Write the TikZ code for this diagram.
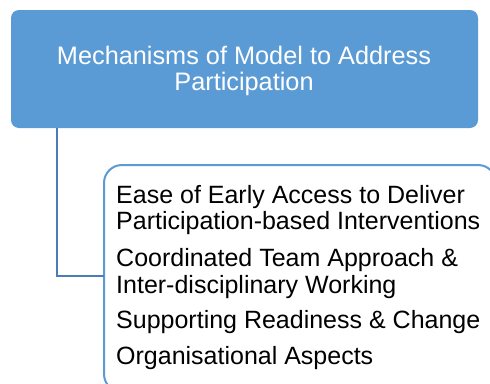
\documentclass[tikz,border=0pt]{standalone}
\usepackage{fontspec}
\setmainfont{Liberation Sans}
\begin{document}
\begin{tikzpicture}[x=1pt,y=-1pt,
  headbox/.style={fill=accent,draw=none,rounded corners=8pt},
  listbox/.style={draw=accent,line width=2pt,fill=white,rounded corners=18pt},
  conn/.style={draw=connblue,line width=2.4pt},
  headtext/.style={text=white,font=\fontsize{25.3}{26}\selectfont,anchor=base,inner sep=0pt},
  itemtext/.style={text=black,font=\fontsize{25}{27}\selectfont,anchor=base west,inner sep=0pt}]
\definecolor{accent}{HTML}{5B9BD5}
\definecolor{connblue}{HTML}{4A7DB5}
\useasboundingbox (0,0) rectangle (490,383);
\clip (0,0) rectangle (490,383);
% top box
\path[headbox] (11,10) rectangle (478,128);
\coordinate (topbot) at (57,128);
\node[headtext] (h1) at (244,64) {Mechanisms of Model to Address};
\node[headtext] (h2) at (244,90) {Participation};
% list box
\path[listbox] (104,165) rectangle (496,392);
\coordinate (lboxw) at (104,276);
% connector
\draw[conn] (topbot) |- (lboxw);
% items
\node[itemtext] (i1a) at (116,203) {Ease of Early Access to Deliver};
\node[itemtext] (i1b) at (116,229) {Participation-based Interventions};
\node[itemtext] (i2a) at (116,266) {Coordinated Team Approach \&};
\node[itemtext] (i2b) at (116,293) {Inter-disciplinary Working};
\node[itemtext] (i3) at (116,328) {Supporting Readiness \& Change};
\node[itemtext] (i4) at (116,364) {Organisational Aspects};
\end{tikzpicture}
\end{document}
